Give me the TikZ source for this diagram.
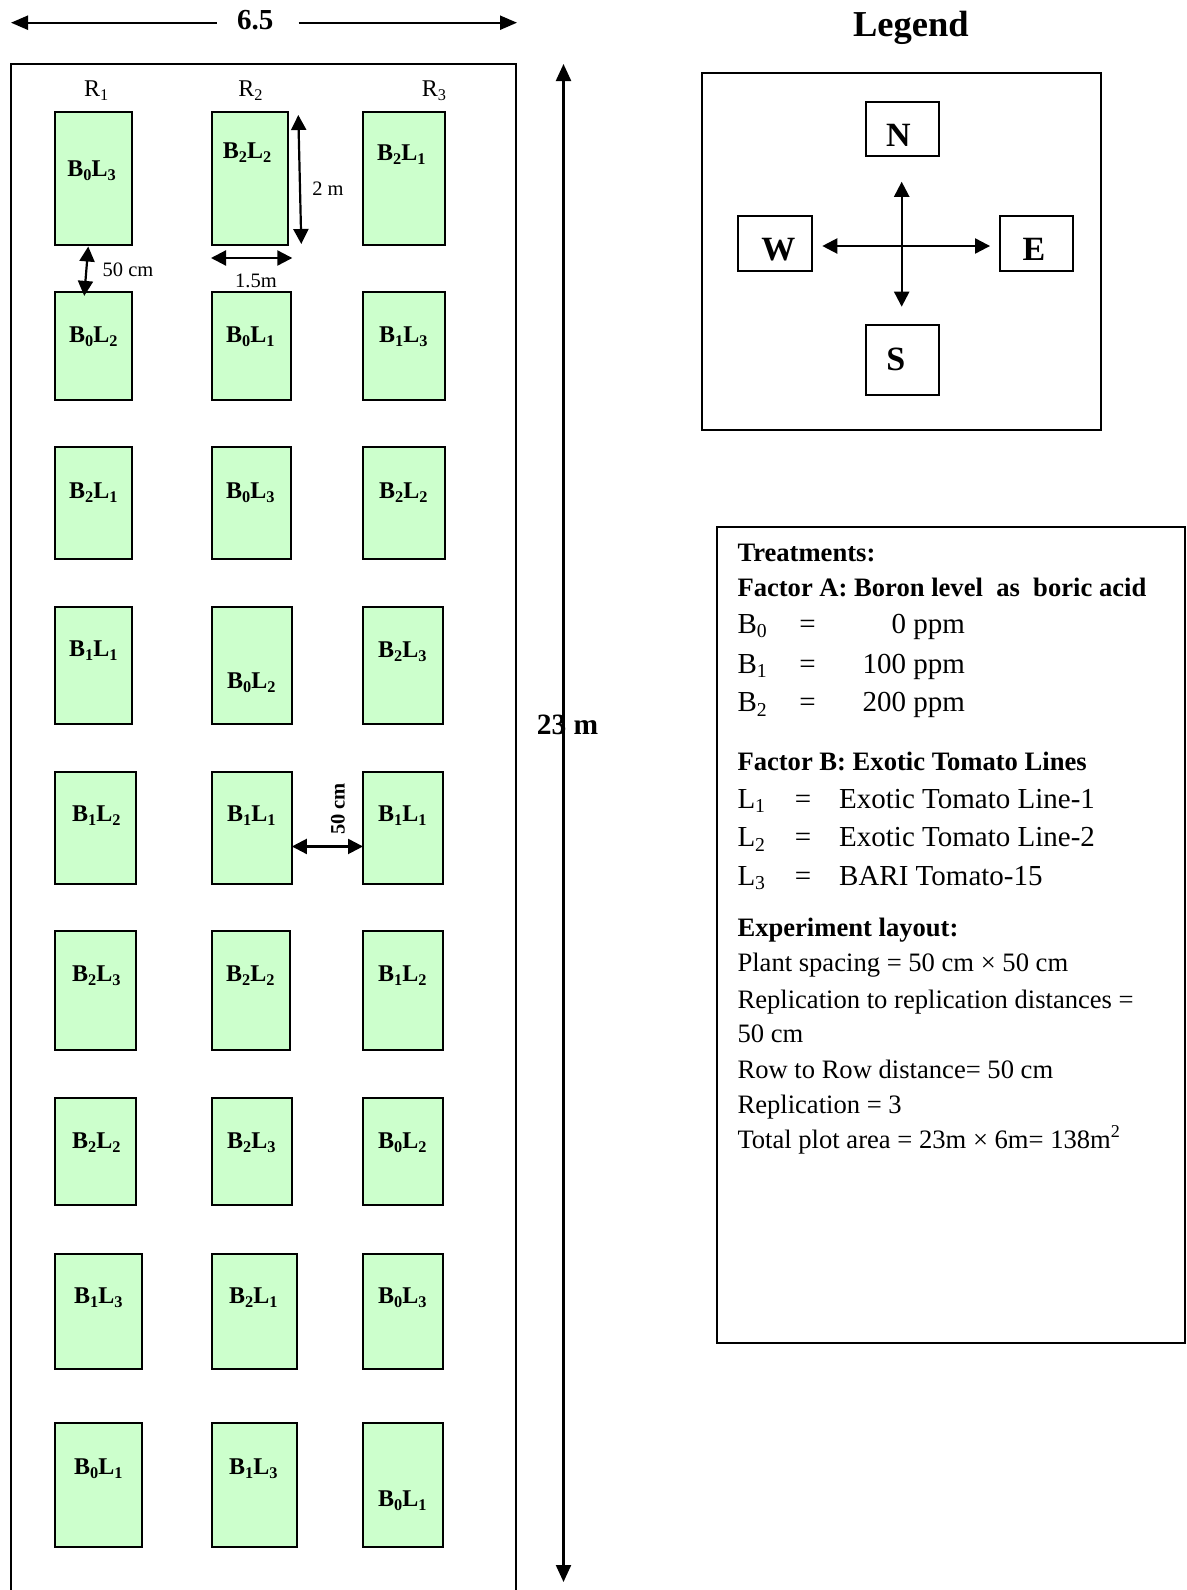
\documentclass[tikz,border=0pt]{standalone}
\usepackage{fontspec}
\setmainfont{Liberation Serif}
\usetikzlibrary{arrows.meta,calc,fit}
\definecolor{plotgreen}{RGB}{204,255,204}
\newcommand\sbs[1]{\raisebox{-0.17em}{\scalebox{0.68}{#1}}}
\newcommand\sps[1]{\raisebox{0.42em}{\scalebox{0.68}{#1}}}
\newcommand\BL[2]{B\sbs{#1}L\sbs{#2}}
\newcommand\fs[1]{\fontsize{#1}{#1}\selectfont}
\newcommand\plotcell[8]{%
  \node[plotbox, fit={(#2,#3) (#4,#5)}] (#1) {};
  \node[plotlbl] (#1t) at (#6,#7) {#8};
}
\begin{document}
\begin{tikzpicture}[x=1pt,y=-1pt,
  plotbox/.style={draw, line width=2pt, fill=plotgreen, inner sep=0pt, outer sep=0pt},
  plotlbl/.style={font=\fs{24}\bfseries, inner sep=0pt, anchor=base},
  frame/.style={draw, line width=2pt, inner sep=0pt, outer sep=0pt},
  cbox/.style={draw, line width=1.8pt, inner sep=0pt, outer sep=0pt},
  cletter/.style={font=\fs{34}\bfseries, inner sep=0pt, anchor=base},
  bigarr/.style={line width=2.2pt, {Triangle[length=17pt,width=15pt]}-{Triangle[length=17pt,width=15pt]}},
  onearr/.style={line width=2.2pt, -{Triangle[length=17pt,width=14pt]}},
  dimarr/.style={line width=2.2pt, {Triangle[length=15pt,width=15pt]}-{Triangle[length=15pt,width=15pt]}},
  dimlbl/.style={font=\fs{20.5}, inner sep=0pt, anchor=base},
  rlbl/.style={font=\fs{24}, inner sep=0pt, anchor=base},
  head/.style={font=\fs{26.6}\bfseries, inner sep=0pt, anchor=base west},
  body/.style={font=\fs{26.6}, inner sep=0pt, anchor=base west},
  big/.style={font=\fs{29}, inner sep=0pt},
]
\useasboundingbox (0,0) rectangle (1186,1590);

% ---- field frame (open at the bottom)
\draw[line width=2pt] (10.5,1600) -- (10.5,63.5) -- (515.5,63.5) -- (515.5,1600);

% ---- width dimension 6.5
\node[font=\fs{29}\bfseries, inner sep=0pt, anchor=base] (t65) at (255.3,29.3) {6.5};
\coordinate (a65L) at (11,22.7);
\coordinate (a65R) at (517,22.7);
\draw[onearr] ($(t65.west |- a65L)+(-20,0)$) -- (a65L);
\draw[onearr] ($(t65.east |- a65R)+(25,0)$) -- (a65R);

% ---- length dimension 23 m
\coordinate (vtop) at (563.5,64);
\coordinate (vbot) at (563.5,1582);
\draw[bigarr] (vtop) -- (vbot);
\node[font=\fs{29.5}\bfseries, inner sep=0pt, anchor=base] (t23) at (567.5,734) {23 m};

% ---- replication labels
\node[rlbl] (R1) at (96.3,96) {R\sbs{1}};
\node[rlbl] (R2) at (250.4,96) {R\sbs{2}};
\node[rlbl] (R3) at (433.9,96) {R\sbs{3}};

% ---- plots
\plotcell{p11}{54.5}{111.7}{132}{245}{91.5}{176}{\BL03}
\plotcell{p12}{212}{111.7}{288.3}{245}{247}{158.5}{\BL22}
\plotcell{p13}{363}{111.7}{445}{245}{401.4}{160}{\BL21}

\plotcell{p21}{54.5}{291.9}{132}{400.4}{93.3}{342}{\BL02}
\plotcell{p22}{212}{291.9}{290.9}{400.4}{250.4}{342}{\BL01}
\plotcell{p23}{363}{291.9}{445}{400.4}{403.4}{342}{\BL13}

\plotcell{p31}{54.5}{447}{132}{558.5}{93.3}{498}{\BL21}
\plotcell{p32}{212}{447}{290.9}{558.5}{250.4}{498}{\BL03}
\plotcell{p33}{363}{447}{445}{558.5}{403.4}{498}{\BL22}

\plotcell{p41}{54.5}{607.2}{132}{723.8}{93.3}{656.5}{\BL11}
\plotcell{p42}{212}{607.2}{291.9}{723.8}{251.4}{688.5}{\BL02}
\plotcell{p43}{363}{607.2}{443}{723.8}{402.4}{657.5}{\BL23}

\plotcell{p51}{54.5}{772.4}{135.8}{883.9}{96.3}{821}{\BL12}
\plotcell{p52}{212}{772.4}{291.9}{883.9}{251.4}{821}{\BL11}
\plotcell{p53}{363}{772.4}{443}{883.9}{402.4}{821}{\BL11}

\plotcell{p61}{54.5}{930.6}{135.8}{1050.2}{96.3}{981.5}{\BL23}
\plotcell{p62}{212}{930.6}{289.9}{1050.2}{250.4}{981.5}{\BL22}
\plotcell{p63}{363}{930.6}{443}{1050.2}{402.4}{981.5}{\BL12}

\plotcell{p71}{54.5}{1097.8}{135.8}{1205.3}{96.3}{1148}{\BL22}
\plotcell{p72}{212}{1097.8}{291.9}{1205.3}{251.4}{1148}{\BL23}
\plotcell{p73}{363}{1097.8}{443}{1205.3}{402.4}{1148}{\BL02}

\plotcell{p81}{54.5}{1253.9}{141.9}{1368.5}{98.3}{1303}{\BL13}
\plotcell{p82}{212}{1253.9}{297}{1368.5}{253.4}{1303}{\BL21}
\plotcell{p83}{363}{1253.9}{443}{1368.5}{402.4}{1303}{\BL03}

\plotcell{p91}{54.5}{1422.5}{141.9}{1546.5}{98.3}{1474.5}{\BL01}
\plotcell{p92}{212}{1422.5}{297}{1546.5}{253.4}{1474.5}{\BL13}
\plotcell{p93}{363}{1422.5}{443}{1546.5}{402.4}{1506.5}{\BL01}

% ---- plot dimensions
\draw[dimarr] ($(p12.north east)+(10,3.3)$) -- ($(p12.south east)+(13,-1)$);
\node[dimlbl] (d2m) at (328,195) {2 m};
\draw[dimarr] ($(p12.south west)+(-1,13)$) -- ($(p12.south east)+(4,13)$);
\node[dimlbl] (d15) at (256,287) {1.5m};
\draw[dimarr] ($(p11.south)+(-5,1.5)$) -- ($(p21.north)+(-9,4)$);
\node[dimlbl] (d50a) at (128,276) {50 cm};
\draw[dimarr] ($(p52.east)+(0,18.3)$) -- ($(p53.west)+(0,18.3)$);
\node[font=\fs{20.5}\bfseries, inner sep=0pt, rotate=90] (d50b) at (338,809) {50 cm};

% ---- legend
\node[font=\fs{36.5}\bfseries, inner sep=0pt, anchor=base] (legend) at (910.8,36.7) {Legend};
\node[frame, fit={(701.7,72.7) (1100.7,430)}] (compass) {};
\node[cbox, minimum width=73.6pt, minimum height=54.3pt] (N) at (902.5,128.9) {};
\node[cbox, minimum width=74pt, minimum height=54.7pt] (W) at (775.3,243.3) {};
\node[cbox, minimum width=73.3pt, minimum height=54.7pt] (E) at (1036.7,243.3) {};
\node[cbox, minimum width=73.6pt, minimum height=70pt] (S) at (902.5,360) {};
\node[cletter] (Nt) at (898.3,146) {N};
\node[cletter] (Wt) at (778.3,260) {W};
\node[cletter] (Et) at (1034,260) {E};
\node[cletter] (St) at (895.7,370) {S};
\draw[dimarr] ($(W.east)+(10,2.7)$) -- ($(E.west)+(-10,2.7)$);
\draw[dimarr] ($(N.south)+(-0.8,25.7)$) -- ($(S.north)+(-0.8,-18.3)$);

% ---- treatments box
\node[frame, fit={(716.7,526.7) (1185,1343)}] (treat) {};
\node[head] (h1) at (737.3,561.7) {Treatments:};
\node[head] (h2) at (737.3,596.7) {Factor A: Boron level\ \ as\ \ boric acid};
\node[big, anchor=base west] (b0) at (737.3,633) {B\sbs{0}};
\node[big, anchor=base] (b0e) at (807.5,633) {=};
\node[big, anchor=base east] (b0v) at (965,633) {0 ppm};
\node[big, anchor=base west] (b1) at (737.3,673) {B\sbs{1}};
\node[big, anchor=base] (b1e) at (807.5,673) {=};
\node[big, anchor=base east] (b1v) at (965,673) {100 ppm};
\node[big, anchor=base west] (b2) at (737.3,711.7) {B\sbs{2}};
\node[big, anchor=base] (b2e) at (807.5,711.7) {=};
\node[big, anchor=base east] (b2v) at (965,711.7) {200 ppm};
\node[head] (h3) at (737.3,770) {Factor B: Exotic Tomato Lines};
\node[big, anchor=base west] (l1) at (737.3,808) {L\sbs{1}};
\node[big, anchor=base] (l1e) at (803,808) {=};
\node[big, anchor=base west] (l1v) at (839,808) {Exotic Tomato Line-1};
\node[big, anchor=base west] (l2) at (737.3,846.7) {L\sbs{2}};
\node[big, anchor=base] (l2e) at (803,846.7) {=};
\node[big, anchor=base west] (l2v) at (839,846.7) {Exotic Tomato Line-2};
\node[big, anchor=base west] (l3) at (737.3,885) {L\sbs{3}};
\node[big, anchor=base] (l3e) at (803,885) {=};
\node[big, anchor=base west] (l3v) at (839,885) {BARI Tomato-15};
\node[head] (h4) at (737.3,936.7) {Experiment layout:};
\node[body] (e1) at (737.3,971.7) {Plant spacing = 50 cm × 50 cm};
\node[body] (e2) at (737.3,1008.3) {Replication to replication distances =};
\node[body] (e3) at (737.3,1042.7) {50 cm};
\node[body] (e4) at (737.3,1078.3) {Row to Row distance= 50 cm};
\node[body] (e5) at (737.3,1113.3) {Replication = 3};
\node[body] (e6) at (737.3,1148.3) {Total plot area = 23m × 6m= 138m\sps{2}};
\end{tikzpicture}
\end{document}
